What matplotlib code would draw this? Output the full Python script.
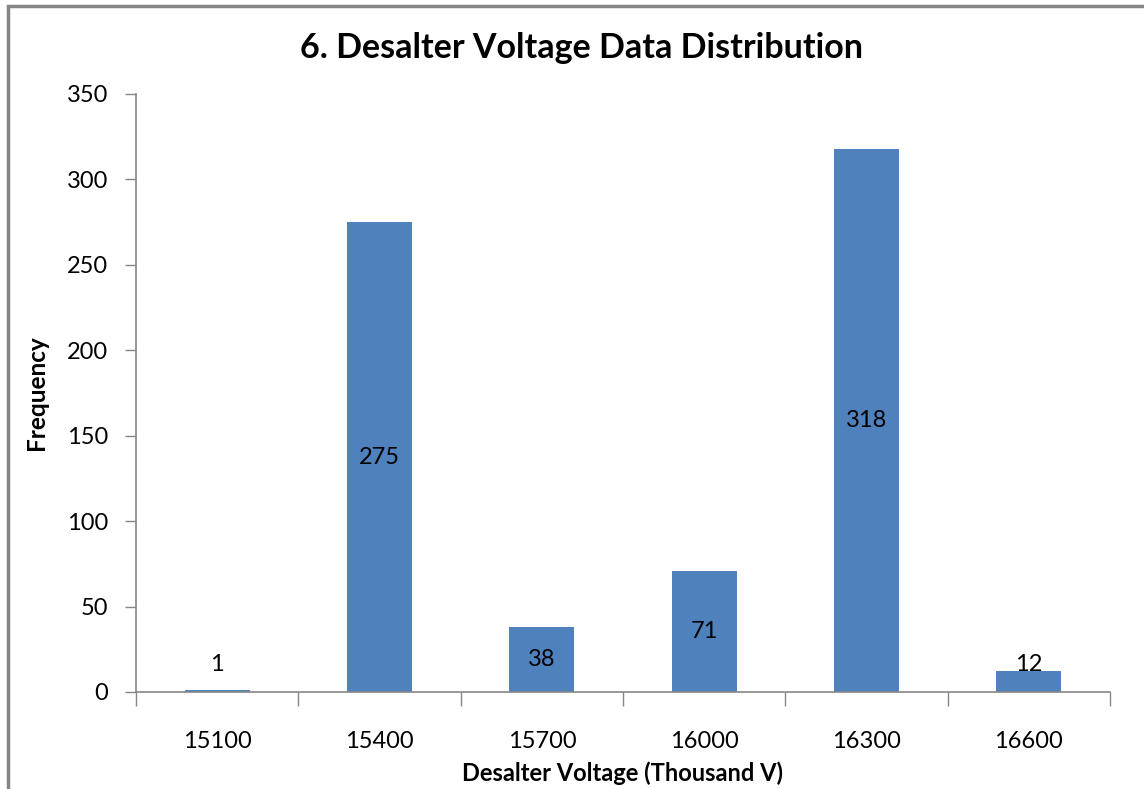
import matplotlib
matplotlib.use("Agg")
import matplotlib.pyplot as plt
from matplotlib.patches import Rectangle

categories = ["15100", "15400", "15700", "16000", "16300", "16600"]
counts = [1, 275, 38, 71, 318, 12]

BAR_COLOR = "#4F81BD"
AXIS_COLOR = "#868686"
FONT = ["Lato", "DejaVu Sans"]

W, H = 1144, 789
fig = plt.figure(figsize=(W / 100, H / 100), dpi=100)
plt.rcParams["font.family"] = FONT

# outer chart frame (only top and left edges are visible in the crop)
fig.patches.append(Rectangle((8 / W, -0.1), 1.2, (H - 6) / H + 0.1,
                             transform=fig.transFigure, fill=False,
                             edgecolor=AXIS_COLOR, linewidth=2.5))

ax = fig.add_axes([136 / W, (H - 692) / H, (1110 - 136) / W, (692 - 94) / H])
x = list(range(len(categories)))
ax.bar(x, counts, width=0.4, color=BAR_COLOR)

ax.set_xlim(-0.5, len(categories) - 0.5)
ax.set_ylim(0, 350)
ax.set_yticks(range(0, 351, 50))
ax.set_xticks(x)
ax.set_xticklabels(categories)
ax.set_xticks([i - 0.5 for i in range(len(categories) + 1)], minor=True)
ax.tick_params(axis="x", which="major", length=0, pad=36, labelsize=17)
ax.tick_params(axis="x", which="minor", length=10, color=AXIS_COLOR, width=1)
ax.tick_params(axis="y", length=8, color=AXIS_COLOR, width=1, labelsize=17, pad=12)
for lbl in ax.get_xticklabels():
    lbl.set_va("center")

for side in ["top", "right"]:
    ax.spines[side].set_visible(False)
for side in ["left", "bottom"]:
    ax.spines[side].set_color(AXIS_COLOR)
    ax.spines[side].set_linewidth(1.2)

for xi, v in zip(x, counts):
    ax.text(xi, max(v / 2, 16), str(v), ha="center", va="center", fontsize=17)

ax.set_ylabel("Frequency", fontsize=17.5, fontweight="bold")
ax.yaxis.set_label_coords(-(136 - 37) / (1110 - 136), 0.5)
ax.set_xlabel("Desalter Voltage (Thousand V)", fontsize=17, fontweight="bold")
ax.xaxis.set_label_coords(0.5, -(773 - 692) / (692 - 94))
ax.xaxis.label.set_va("center")
ax.yaxis.label.set_va("center")
fig.text(0.508, (H - 48) / H, "6. Desalter Voltage Data Distribution",
         ha="center", va="center", fontsize=24.5, fontweight="bold")

fig.savefig("out.png", dpi=100)
